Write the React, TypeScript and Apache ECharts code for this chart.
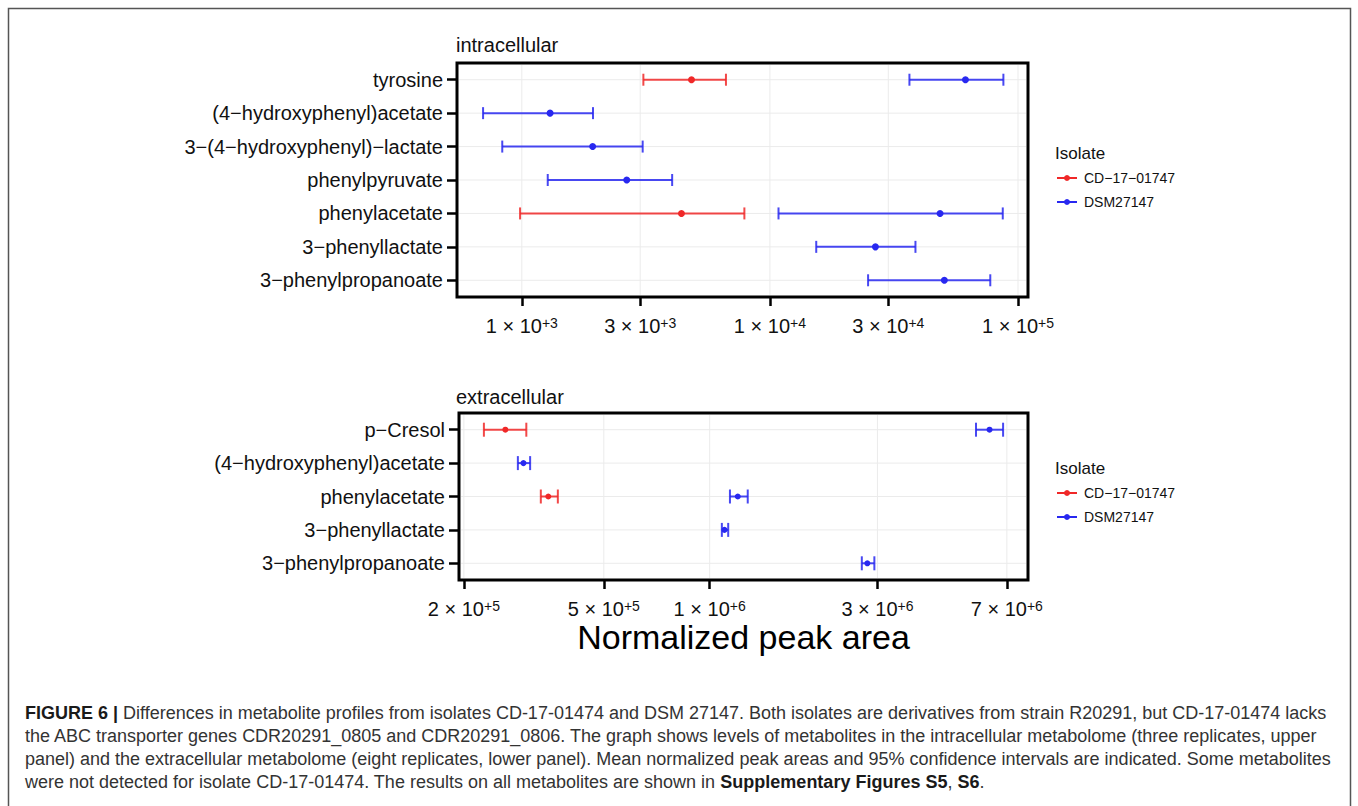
import React, { useEffect, useRef } from 'react';
import * as echarts from 'echarts';

const FONT = '"Liberation Sans", Arial, Helvetica, sans-serif';
const CAPTION_FONT = '"Liberation Sans", Arial, Helvetica, sans-serif';
const isolates = ['CD−17−01747', 'DSM27147'];
const isolateColors = ['#f02828', '#2828f0'];

const intraCategories = [
  'tyrosine',
  '(4−hydroxyphenyl)acetate',
  '3−(4−hydroxyphenyl)−lactate',
  'phenylpyruvate',
  'phenylacetate',
  '3−phenyllactate',
  '3−phenylpropanoate',
];
// [low CI, mean, high CI, metabolite]
const intraCD: (number | string)[][] = [
  [3090, 4830, 6650, 'tyrosine'],
  [984, 4400, 7890, 'phenylacetate'],
];
const intraDSM: (number | string)[][] = [
  [36500, 61400, 87300, 'tyrosine'],
  [698, 1300, 1936, '(4−hydroxyphenyl)acetate'],
  [834, 1930, 3070, '3−(4−hydroxyphenyl)−lactate'],
  [1272, 2648, 4036, 'phenylpyruvate'],
  [10830, 48500, 86800, 'phenylacetate'],
  [15370, 26620, 38600, '3−phenyllactate'],
  [24870, 50470, 77300, '3−phenylpropanoate'],
];

const extraCategories = [
  'p−Cresol',
  '(4−hydroxyphenyl)acetate',
  'phenylacetate',
  '3−phenyllactate',
  '3−phenylpropanoate',
];
const extraCD: (number | string)[][] = [
  [228000, 262400, 301000, 'p−Cresol'],
  [331000, 347600, 370000, 'phenylacetate'],
];
const extraDSM: (number | string)[][] = [
  [5720000, 6250000, 6830000, 'p−Cresol'],
  [284800, 295400, 308600, '(4−hydroxyphenyl)acetate'],
  [1142000, 1202000, 1283000, 'phenylacetate'],
  [1083000, 1101600, 1129000, '3−phenyllactate'],
  [2708000, 2808000, 2940000, '3−phenylpropanoate'],
];

const intraTicks = [1e3, 3e3, 1e4, 3e4, 1e5];
const intraTickMant = ['1', '3', '1', '3', '1'];
const intraTickExp = ['+3', '+3', '+4', '+4', '+5'];
const extraTicks = [2e5, 5e5, 1e6, 3e6, 7e6];
const extraTickMant = ['2', '5', '1', '3', '7'];
const extraTickExp = ['+5', '+5', '+6', '+6', '+6'];

const intraRange = [548, 109700];
const extraRange = [193700, 8040000];

const captionLines = [
  [
    ['b', 'FIGURE 6 | '],
    ['n', 'Differences in metabolite profiles from isolates CD-17-01474 and DSM 27147. Both isolates are derivatives from strain R20291, but CD-17-01474 lacks'],
  ],
  [['n', 'the ABC transporter genes CDR20291_0805 and CDR20291_0806. The graph shows levels of metabolites in the intracellular metabolome (three replicates, upper']],
  [['n', 'panel) and the extracellular metabolome (eight replicates, lower panel). Mean normalized peak areas and 95% confidence intervals are indicated. Some metabolites']],
  [
    ['n', 'were not detected for isolate CD-17-01474. The results on all metabolites are shown in '],
    ['b', 'Supplementary Figures S5'],
    ['n', ', '],
    ['b', 'S6'],
    ['n', '.'],
  ],
];

function tickFormatter(ticks: number[], mant: string[], exp: string[]) {
  return (v: number) => {
    const i = ticks.findIndex((t) => Math.abs(Math.log10(t) - Math.log10(v)) < 1e-6);
    if (i < 0) return '';
    return `{m|${mant[i]} × 10}{e|${exp[i]}}`;
  };
}

const errRender = (cap: number, r: number) => (params: any, api: any) => {
  const cat = api.value(3);
  const lo = api.coord([api.value(0), cat]);
  const mid = api.coord([api.value(1), cat]);
  const hi = api.coord([api.value(2), cat]);
  const color = api.visual('color');
  const ls = { stroke: color, lineWidth: 2, opacity: 0.85 };
  return {
    type: 'group',
    children: [
      { type: 'line', shape: { x1: lo[0], y1: lo[1], x2: hi[0], y2: hi[1] }, style: ls },
      { type: 'line', shape: { x1: lo[0], y1: lo[1] - cap, x2: lo[0], y2: lo[1] + cap }, style: ls },
      { type: 'line', shape: { x1: hi[0], y1: hi[1] - cap, x2: hi[0], y2: hi[1] + cap }, style: ls },
      { type: 'circle', shape: { cx: mid[0], cy: mid[1], r }, style: { fill: color } },
    ],
  };
};

const hGridRender = (params: any, api: any) => {
  const y = api.coord([api.value(0), api.value(1)])[1];
  const cs = params.coordSys;
  return {
    type: 'line',
    shape: { x1: cs.x + 2, y1: y, x2: cs.x + cs.width - 2, y2: y },
    style: { stroke: '#ebebeb', lineWidth: 1 },
  };
};
const vGridRender = (params: any, api: any) => {
  const x = api.coord([api.value(0), api.value(1)])[0];
  const cs = params.coordSys;
  return {
    type: 'line',
    shape: { x1: x, y1: cs.y + 2, x2: x, y2: cs.y + cs.height - 2 },
    style: { stroke: '#ebebeb', lineWidth: 1 },
  };
};

function legendElements(top: number) {
  const els: any[] = [
    {
      type: 'text',
      x: 1055,
      y: top,
      style: { text: 'Isolate', fontSize: 17, fontFamily: FONT, fill: '#111', verticalAlign: 'middle' },
    },
  ];
  isolates.forEach((name, i) => {
    const y = top + 25 + 24 * i;
    els.push({ type: 'line', shape: { x1: 1057, y1: y, x2: 1077, y2: y }, style: { stroke: isolateColors[i], lineWidth: 2 } });
    els.push({ type: 'circle', shape: { cx: 1067, cy: y, r: 3 }, style: { fill: isolateColors[i] } });
    els.push({
      type: 'text',
      x: 1084,
      y,
      style: { text: name, fontSize: 14, fontFamily: FONT, fill: '#111', verticalAlign: 'middle' },
    });
  });
  return els;
}

export default function App() {
  const ref = useRef<HTMLDivElement>(null);
  useEffect(() => {
    if (!ref.current) return;
    const chart = echarts.init(ref.current, null, { renderer: 'svg' });

    const richLabel = {
      m: { fontSize: 20, fontFamily: FONT, color: '#111', lineHeight: 20 },
      e: { fontSize: 14, fontFamily: FONT, color: '#111', lineHeight: 9, verticalAlign: 'top' },
    };

    const yAxisBase = (gridIndex: number, cats: string[]) => ({
      type: 'category',
      gridIndex,
      data: cats,
      inverse: true,
      axisLine: { show: false },
      axisTick: { show: true, alignWithLabel: true, length: 10, lineStyle: { color: '#000', width: 2.5 } },
      axisLabel: { fontSize: 20, fontFamily: FONT, color: '#111', margin: 14 },
      splitLine: { show: false },
    });

    const xAxisBase = (gridIndex: number, range: number[], ticks: number[], mant: string[], exp: string[]) => ({
      type: 'log',
      logBase: 10,
      gridIndex,
      min: range[0],
      max: range[1],
      axisLine: { show: false },
      axisTick: { show: true, customValues: ticks, length: 9, lineStyle: { color: '#000', width: 2.5 } },
      axisLabel: {
        customValues: ticks,
        formatter: tickFormatter(ticks, mant, exp),
        rich: richLabel,
        margin: 19,
      },
      splitLine: { show: false },
      minorTick: { show: false },
      minorSplitLine: { show: false },
    });

    const errSeries = (name: string, color: string, data: any[], idx: number, cap: number, r: number) => ({
      type: 'custom',
      name,
      xAxisIndex: idx,
      yAxisIndex: idx,
      data,
      encode: { x: [0, 1, 2], y: 3 },
      itemStyle: { color },
      renderItem: errRender(cap, r),
      clip: false,
      z: 5,
    });

    const gridSeries = (idx: number, cats: string[], ticks: number[]) => [
      {
        type: 'custom',
        silent: true,
        xAxisIndex: idx,
        yAxisIndex: idx,
        data: cats.map((c) => [ticks[0], c]),
        encode: { x: 0, y: 1 },
        renderItem: hGridRender,
        z: 1,
      },
      {
        type: 'custom',
        silent: true,
        xAxisIndex: idx,
        yAxisIndex: idx,
        data: ticks.map((t) => [t, cats[0]]),
        encode: { x: 0, y: 1 },
        renderItem: vGridRender,
        z: 1,
      },
    ];

    const caption = captionLines.map((line, i) => ({
      type: 'text',
      x: 25,
      y: 713 + 23 * i,
      style: {
        text: line.map(([k, t]) => `{${k}|${t}}`).join(''),
        verticalAlign: 'middle',
        rich: {
          b: { fontSize: 18, fontFamily: CAPTION_FONT, fontWeight: 'bold', fill: '#1a1a1a', color: '#1a1a1a' },
          n: { fontSize: 18, fontFamily: CAPTION_FONT, fill: '#333', color: '#333' },
        },
      },
    }));

    const xTop: any = xAxisBase(0, intraRange, intraTicks, intraTickMant, intraTickExp);
    const xBot: any = xAxisBase(1, extraRange, extraTicks, extraTickMant, extraTickExp);
    xBot.name = 'Normalized peak area';
    xBot.nameLocation = 'middle';
    xBot.nameGap = 40;
    xBot.nameTextStyle = { fontSize: 34, fontFamily: FONT, color: '#000' };

    chart.setOption({
      animation: false,
      backgroundColor: '#fff',
      title: [
        { text: 'intracellular', left: 456, top: 35, padding: 0, textStyle: { fontSize: 20, fontWeight: 'normal', fontFamily: FONT, color: '#111' } },
        { text: 'extracellular', left: 456, top: 387, padding: 0, textStyle: { fontSize: 20, fontWeight: 'normal', fontFamily: FONT, color: '#111' } },
      ],
      grid: [
        { left: 457, top: 63, width: 571, height: 234, show: true, borderColor: '#000', borderWidth: 3, backgroundColor: 'transparent', containLabel: false },
        { left: 459, top: 413, width: 569, height: 167, show: true, borderColor: '#000', borderWidth: 3, backgroundColor: 'transparent', containLabel: false },
      ],
      xAxis: [xTop, xBot],
      yAxis: [yAxisBase(0, intraCategories), yAxisBase(1, extraCategories)],
      series: [
        ...gridSeries(0, intraCategories, intraTicks),
        ...gridSeries(1, extraCategories, extraTicks),
        errSeries(isolates[0], isolateColors[0], intraCD, 0, 6, 3.5),
        errSeries(isolates[1], isolateColors[1], intraDSM, 0, 6, 3.5),
        errSeries(isolates[0], isolateColors[0], extraCD, 1, 7, 3),
        errSeries(isolates[1], isolateColors[1], extraDSM, 1, 7, 3),
      ],
      graphic: [
        {
          type: 'rect',
          shape: { x: 8.5, y: 8.5, width: 1342, height: 830 },
          style: { fill: 'none', stroke: '#555', lineWidth: 1.5 },
          silent: true,
        },
        ...legendElements(153),
        ...legendElements(468),
        ...caption,
      ],
    });
    return () => chart.dispose();
  }, []);
  return (
    <div
      ref={ref}
      style={{ position: 'absolute', left: 0, top: 0, width: 1358, height: 806, background: '#fff' }}
    />
  );
}
